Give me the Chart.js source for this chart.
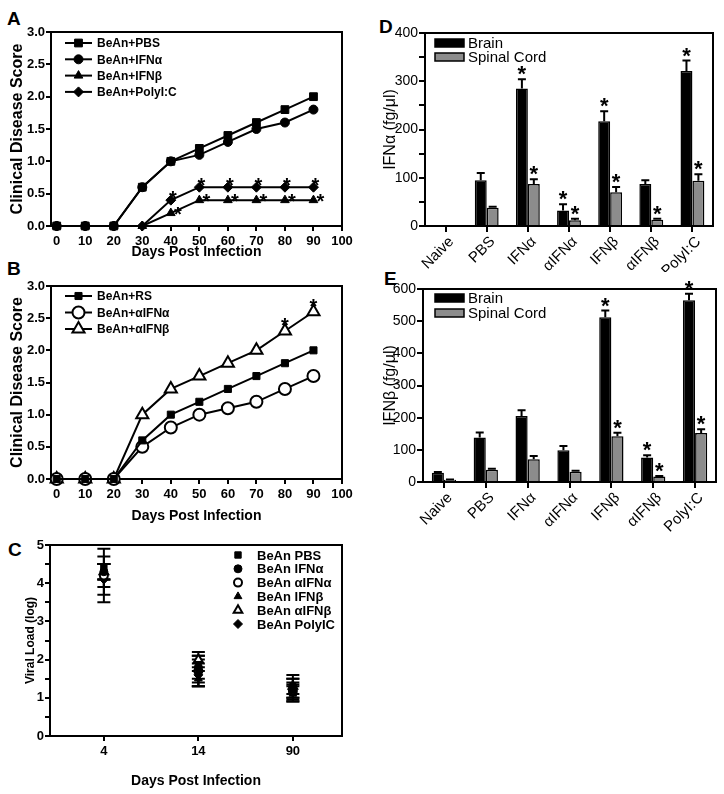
<!DOCTYPE html>
<html>
<head>
<meta charset="utf-8">
<script src="https://cdn.jsdelivr.net/npm/chart.js@4/dist/chart.umd.min.js"></script>
<style>
  body { margin: 0; background: #fff; width: 724px; height: 794px; position: relative; overflow: hidden; }
  canvas { position: absolute; }
  .panel { position: absolute; font: bold 19px 'Liberation Sans', Arial, sans-serif; line-height: 1; }
</style>
</head>
<body>
<div class="panel" style="left:7px;top:9px">A</div>
<div class="panel" style="left:7px;top:259px">B</div>
<div class="panel" style="left:8px;top:540px">C</div>
<div class="panel" style="left:379px;top:17px">D</div>
<div class="panel" style="left:384px;top:269px">E</div>

<canvas id="chartA" width="362" height="262" style="left:0;top:0"></canvas>
<canvas id="chartB" width="362" height="264" style="left:0;top:262px"></canvas>
<canvas id="chartC" width="362" height="268" style="left:0;top:526px"></canvas>
<canvas id="chartD" width="362" height="272" style="left:362px;top:0"></canvas>
<canvas id="chartE" width="362" height="280" style="left:362px;top:262px"></canvas>

<script>
// Panels A and B: clinical disease score over time
const days = [0, 10, 20, 30, 40, 50, 60, 70, 80, 90];
const dayTicks = [0, 10, 20, 30, 40, 50, 60, 70, 80, 90, 100];
const scoreTicks = [0, 0.5, 1.0, 1.5, 2.0, 2.5, 3.0];

const aPBS = [0, 0, 0, 0.6, 1.0, 1.2, 1.4, 1.6, 1.8, 2.0];
const aIFNa = [0, 0, 0, 0.6, 1.0, 1.1, 1.3, 1.5, 1.6, 1.8];
const aIFNb = [0, 0, 0, 0, 0.2, 0.4, 0.4, 0.4, 0.4, 0.4];
const aPolyIC = [0, 0, 0, 0, 0.4, 0.6, 0.6, 0.6, 0.6, 0.6];
const aStars = [0, 0, 0, 0, 1, 1, 1, 1, 1, 1];

const bRS = [0, 0, 0, 0.6, 1.0, 1.2, 1.4, 1.6, 1.8, 2.0];
const bAntiIFNa = [0, 0, 0, 0.5, 0.8, 1.0, 1.1, 1.2, 1.4, 1.6];
const bAntiIFNb = [0, 0, 0, 1.0, 1.4, 1.6, 1.8, 2.0, 2.3, 2.6];
const bStars = [0, 0, 0, 0, 0, 0, 0, 0, 1, 1];

// Panel C: viral load, mean and error per time point
const cDays = ['4', '14', '90'];
const viralTicks = [0, 0.5, 1, 1.5, 2, 2.5, 3, 3.5, 4, 4.5, 5];
const cPBS = [4.4, 1.7, 1.2];
const cPBSErr = [0.3, 0.3, 0.2];
const cIFNa = [4.3, 1.8, 1.3];
const cIFNaErr = [0.2, 0.3, 0.3];
const cAntiIFNa = [4.2, 1.7, 1.2];
const cAntiIFNaErr = [0.7, 0.4, 0.3];
const cIFNb = [4.2, 1.5, 1.1];
const cIFNbErr = [0.3, 0.2, 0.2];
const cAntiIFNb = [4.3, 2.0, 1.3];
const cAntiIFNbErr = [0.2, 0.2, 0.2];
const cPolyIC = [4.1, 1.6, 1.15];
const cPolyICErr = [0.4, 0.3, 0.2];

// Panels D and E: cytokine levels per treatment group
const groups = ['Naive', 'PBS', 'IFNα', 'αIFNα', 'IFNβ', 'αIFNβ', 'PolyI:C'];
const dTicks = [0, 50, 100, 150, 200, 250, 300, 350, 400];
const dBrain = [2, 95, 285, 32, 217, 87, 321];
const dBrainErr = [0, 15, 19, 13, 21, 8, 22];
const dBrainStars = [0, 0, 1, 1, 1, 0, 1];
const dSpinal = [0, 38, 87, 12, 70, 13, 94];
const dSpinalErr = [0, 2, 10, 3, 11, 2, 13];
const dSpinalStars = [0, 0, 1, 1, 1, 1, 1];

const eTicks = [0, 50, 100, 150, 200, 250, 300, 350, 400, 450, 500, 550, 600];
const eBrain = [29, 138, 205, 99, 512, 76, 565];
const eBrainErr = [2, 16, 18, 13, 21, 7, 20];
const eBrainStars = [0, 0, 0, 0, 1, 1, 1];
const eSpinal = [7, 38, 71, 32, 142, 17, 152];
const eSpinalErr = [1, 3, 10, 3, 11, 2, 12];
const eSpinalStars = [0, 0, 0, 0, 1, 1, 1];

const FONT = "'Liberation Sans', Arial, Helvetica, sans-serif";
Chart.defaults.font.family = FONT;
Chart.defaults.color = '#000';
Chart.defaults.animation = false;
Chart.defaults.plugins.legend.display = false;
Chart.defaults.plugins.tooltip.enabled = false;

// frame round the plot area
const framePlugin = {
  id: 'frame',
  beforeDatasetsDraw(chart) {
    const { ctx, chartArea: a } = chart;
    ctx.save();
    ctx.strokeStyle = '#000';
    ctx.lineWidth = 2;
    ctx.strokeRect(a.left, a.top, a.right - a.left, a.bottom - a.top);
    ctx.restore();
  }
};

function valueOf(d) {
  return typeof d === 'object' ? d.y : d;
}

// error bars: 'up' for bars, 'both' for points
const errorPlugin = {
  id: 'errorBars',
  beforeDatasetsDraw(chart) { drawErrors(chart, 'both'); },
  afterDatasetsDraw(chart) { drawErrors(chart, 'up'); }
};

function drawErrors(chart, mode) {
  const { ctx } = chart;
  const yScale = chart.scales.y;
  ctx.save();
  ctx.strokeStyle = '#000';
  ctx.lineWidth = 2;
  chart.data.datasets.forEach((ds, i) => {
    if (!ds.errors || ds.errorMode !== mode) return;
    const meta = chart.getDatasetMeta(i);
    meta.data.forEach((el, j) => {
      const v = valueOf(ds.data[j]);
      const e = ds.errors[j];
      if (!e) return;
      const top = yScale.getPixelForValue(v + e);
      const bottom = mode === 'both' ? yScale.getPixelForValue(v - e) : el.y;
      const cap = ds.capWidth / 2;
      ctx.beginPath();
      ctx.moveTo(el.x, top);
      ctx.lineTo(el.x, bottom);
      ctx.moveTo(el.x - cap, top);
      ctx.lineTo(el.x + cap, top);
      if (mode === 'both') {
        ctx.moveTo(el.x - cap, bottom);
        ctx.lineTo(el.x + cap, bottom);
      }
      ctx.stroke();
    });
  });
  ctx.restore();
}

// significance asterisks
const starPlugin = {
  id: 'stars',
  afterDatasetsDraw(chart) {
    const { ctx } = chart;
    const yScale = chart.scales.y;
    ctx.save();
    ctx.fillStyle = '#000';
    ctx.textAlign = 'center';
    ctx.textBaseline = 'alphabetic';
    chart.data.datasets.forEach((ds, i) => {
      if (!ds.stars) return;
      ctx.font = ds.starFont;
      const meta = chart.getDatasetMeta(i);
      meta.data.forEach((el, j) => {
        if (!ds.stars[j]) return;
        const v = valueOf(ds.data[j]) + (ds.errors && ds.errorMode === 'up' ? ds.errors[j] : 0);
        ctx.fillText('*', el.x + ds.starDx, yScale.getPixelForValue(v) + ds.starDy);
      });
    });
    ctx.restore();
  }
};

// legends drawn inside the plot area
const legendPlugin = {
  id: 'figLegend',
  afterDraw(chart, args, opts) {
    if (!opts.kind) return;
    const { ctx, chartArea: a } = chart;
    ctx.save();
    ctx.font = opts.font;
    ctx.textBaseline = 'middle';
    chart.data.datasets.forEach((ds, i) => {
      const y = a.top + opts.top + i * opts.gap;
      const x = opts.fromRight ? a.right - opts.left : a.left + opts.left;
      if (opts.kind === 'box') {
        ctx.fillStyle = ds.backgroundColor;
        ctx.fillRect(x, y - 4, 29, 8);
        ctx.strokeStyle = '#000';
        ctx.lineWidth = 1.5;
        ctx.strokeRect(x, y - 4, 29, 8);
      } else {
        let mx = x;
        if (opts.kind === 'line') {
          ctx.strokeStyle = '#000';
          ctx.lineWidth = 2;
          ctx.beginPath();
          ctx.moveTo(x, y);
          ctx.lineTo(x + 27, y);
          ctx.stroke();
          mx = x + 13.5;
        }
        ctx.fillStyle = ds.pointBackgroundColor;
        ctx.strokeStyle = '#000';
        ctx.lineWidth = ds.pointBorderWidth;
        Chart.helpers.drawPoint(ctx, { pointStyle: ds.pointStyle, radius: ds.pointRadius, borderWidth: ds.pointBorderWidth, rotation: 0 }, mx, y);
      }
      ctx.fillStyle = '#000';
      ctx.fillText(ds.label, x + opts.textX, y + 1);
    });
    ctx.restore();
  }
};

Chart.register(framePlugin, errorPlugin, starPlugin, legendPlugin);

function series(xs, ys) {
  return xs.map((x, i) => ({ x: x, y: ys[i] }));
}

function lineSet(label, ys, pointStyle, radius, open, extra) {
  return Object.assign({
    label: label,
    data: series(days, ys),
    borderColor: '#000',
    borderWidth: 2,
    pointStyle: pointStyle,
    pointRadius: radius,
    pointBorderWidth: open ? 2 : 1,
    pointBackgroundColor: open ? '#fff' : '#000',
    pointBorderColor: '#000',
    clip: false,
    tension: 0
  }, extra || {});
}

function axisBase(size) {
  return {
    afterFit: s => { if (s.isHorizontal()) s.height = size; else s.width = size; },
    grid: { drawOnChartArea: false, color: '#000', lineWidth: 2, tickLength: 5 },
    border: { color: '#000', width: 2 }
  };
}

function scoreScales(xHeight, titlePad) {
  const x = axisBase(xHeight);
  Object.assign(x, {
    type: 'linear', min: -2, max: 100,
    afterBuildTicks: s => { s.ticks = dayTicks.map(v => ({ value: v })); },
    ticks: { font: { size: 13, weight: 'bold' }, padding: 3, maxRotation: 0, autoSkip: false },
    title: { display: true, text: 'Days Post Infection', font: { size: 14, weight: 'bold' }, padding: { top: 0, bottom: titlePad } }
  });
  const y = axisBase(51);
  Object.assign(y, {
    type: 'linear', min: 0, max: 3,
    afterBuildTicks: s => { s.ticks = scoreTicks.map(v => ({ value: v })); },
    ticks: { font: { size: 13, weight: 'bold' }, padding: 1, callback: v => v.toFixed(1) },
    title: { display: true, text: 'Clinical Disease Score', font: { size: 16, weight: 'bold' }, padding: { top: 8, bottom: 0 } }
  });
  return { x: x, y: y };
}

const starLine = 'bold 20px ' + FONT;

// Panel A
new Chart(document.getElementById('chartA'), {
  type: 'line',
  data: {
    datasets: [
      lineSet('BeAn+PBS', aPBS, 'rect', 5.5, false, { order: 2 }),
      lineSet('BeAn+IFNα', aIFNa, 'circle', 4.5, false, { order: 1 }),
      lineSet('BeAn+IFNβ', aIFNb, 'triangle', 5, false, { order: 4, stars: aStars, starFont: starLine, starDx: 7, starDy: 8 }),
      lineSet('BeAn+PolyI:C', aPolyIC, 'rectRot', 5, false, { order: 3, stars: aStars, starFont: starLine, starDx: 2, starDy: 5 })
    ]
  },
  options: {
    responsive: false,
    layout: { padding: { top: 32, right: 20, left: 0, bottom: 0 } },
    scales: scoreScales(36, 1),
    plugins: { figLegend: { kind: 'line', left: 14, top: 11, gap: 16.3, textX: 32, font: 'bold 12px ' + FONT } }
  }
});

// Panel B
new Chart(document.getElementById('chartB'), {
  type: 'line',
  data: {
    datasets: [
      lineSet('BeAn+RS', bRS, 'rect', 5, false),
      lineSet('BeAn+αIFNα', bAntiIFNa, 'circle', 6, true),
      lineSet('BeAn+αIFNβ', bAntiIFNb, 'triangle', 7, true, { stars: bStars, starFont: starLine, starDx: 0, starDy: 1 })
    ]
  },
  options: {
    responsive: false,
    layout: { padding: { top: 24, right: 20, left: 0, bottom: 0 } },
    scales: scoreScales(47, 1),
    plugins: { figLegend: { kind: 'line', left: 14, top: 10, gap: 16.5, textX: 32, font: 'bold 12px ' + FONT } }
  }
});

// Panel C
function viralSet(label, ys, errs, pointStyle, radius, open) {
  return {
    label: label,
    data: series(cDays.map((d, i) => i + 1), ys),
    errors: errs,
    errorMode: 'both',
    capWidth: 13,
    showLine: false,
    pointStyle: pointStyle,
    pointRadius: radius,
    pointBorderWidth: open ? 2 : 1,
    pointBackgroundColor: open ? '#fff' : '#000',
    pointBorderColor: '#000',
    clip: false
  };
}

const cX = axisBase(58);
Object.assign(cX, {
  type: 'linear', min: 0.43, max: 3.52,
  afterBuildTicks: s => { s.ticks = cDays.map((d, i) => ({ value: i + 1 })); },
  ticks: { font: { size: 13, weight: 'bold' }, padding: 3, callback: v => cDays[Math.round(v) - 1] },
  title: { display: true, text: 'Days Post Infection', font: { size: 14, weight: 'bold' }, padding: { top: 0, bottom: 4 } }
});
const cY = axisBase(50);
Object.assign(cY, {
  type: 'linear', min: 0, max: 5,
  afterBuildTicks: s => { s.ticks = viralTicks.map(v => ({ value: v })); },
  ticks: { font: { size: 13, weight: 'bold' }, padding: 1, callback: v => (v % 1 === 0 ? v : '') },
  title: { display: true, text: 'Viral Load (log)', font: { size: 12, weight: 'bold' }, padding: { top: 23, bottom: 0 } }
});

new Chart(document.getElementById('chartC'), {
  type: 'scatter',
  data: {
    datasets: [
      viralSet('BeAn PBS', cPBS, cPBSErr, 'rect', 4.5, false),
      viralSet('BeAn IFNα', cIFNa, cIFNaErr, 'circle', 4, false),
      viralSet('BeAn αIFNα', cAntiIFNa, cAntiIFNaErr, 'circle', 4, true),
      viralSet('BeAn IFNβ', cIFNb, cIFNbErr, 'triangle', 4.5, false),
      viralSet('BeAn αIFNβ', cAntiIFNb, cAntiIFNbErr, 'triangle', 5, true),
      viralSet('BeAn PolyIC', cPolyIC, cPolyICErr, 'rectRot', 4.5, false)
    ]
  },
  options: {
    responsive: false,
    layout: { padding: { top: 19, right: 20, left: 0, bottom: 0 } },
    scales: { x: cX, y: cY },
    plugins: { figLegend: { kind: 'marker', fromRight: true, left: 104, top: 10, gap: 13.8, textX: 19, font: 'bold 13px ' + FONT } }
  }
});

// Panels D and E
function barSet(label, vals, errs, stars, color) {
  return {
    label: label,
    data: vals,
    errors: errs,
    errorMode: 'up',
    capWidth: 8,
    stars: stars,
    starFont: 'bold 22px ' + FONT,
    starDx: 0,
    starDy: 2,
    backgroundColor: color,
    borderColor: '#000',
    borderWidth: 1.5,
    barPercentage: 1,
    categoryPercentage: 0.58
  };
}

function barScales(yWidth, xHeight, ticks, title) {
  const x = axisBase(xHeight);
  x.grid.offset = false;
  x.grid.tickLength = 6;
  Object.assign(x, {
    type: 'category', offset: true,
    ticks: { font: { size: 15 }, padding: 1, labelOffset: 6, minRotation: 45, maxRotation: 45, autoSkip: false }
  });
  const y = axisBase(yWidth);
  y.grid.tickLength = 6;
  Object.assign(y, {
    type: 'linear', min: 0, max: ticks[ticks.length - 1],
    afterBuildTicks: s => { s.ticks = ticks.map(v => ({ value: v })); },
    ticks: { font: { size: 14 }, padding: 1, callback: v => (v % 100 === 0 ? v : '') },
    title: { display: true, text: title, font: { size: 16 }, padding: { top: 19, bottom: 0 } }
  });
  return { x: x, y: y };
}

new Chart(document.getElementById('chartD'), {
  type: 'bar',
  data: {
    labels: groups,
    datasets: [
      barSet('Brain', dBrain, dBrainErr, dBrainStars, '#000'),
      barSet('Spinal Cord', dSpinal, dSpinalErr, dSpinalStars, '#8c8c8c')
    ]
  },
  options: {
    responsive: false,
    layout: { padding: { top: 33, right: 11, left: 0, bottom: 0 } },
    scales: barScales(63, 46, dTicks, 'IFNα (fg/μl)'),
    plugins: { figLegend: { kind: 'box', left: 10, top: 10, gap: 14, textX: 33, font: '15px ' + FONT } }
  }
});

new Chart(document.getElementById('chartE'), {
  type: 'bar',
  data: {
    labels: groups,
    datasets: [
      barSet('Brain', eBrain, eBrainErr, eBrainStars, '#000'),
      barSet('Spinal Cord', eSpinal, eSpinalErr, eSpinalStars, '#8c8c8c')
    ]
  },
  options: {
    responsive: false,
    layout: { padding: { top: 27, right: 8, left: 0, bottom: 0 } },
    scales: barScales(61, 60, eTicks, 'IFNβ (fg/μl)'),
    plugins: { figLegend: { kind: 'box', left: 12, top: 9, gap: 15, textX: 33, font: '15px ' + FONT } }
  }
});
</script>
</body>
</html>
